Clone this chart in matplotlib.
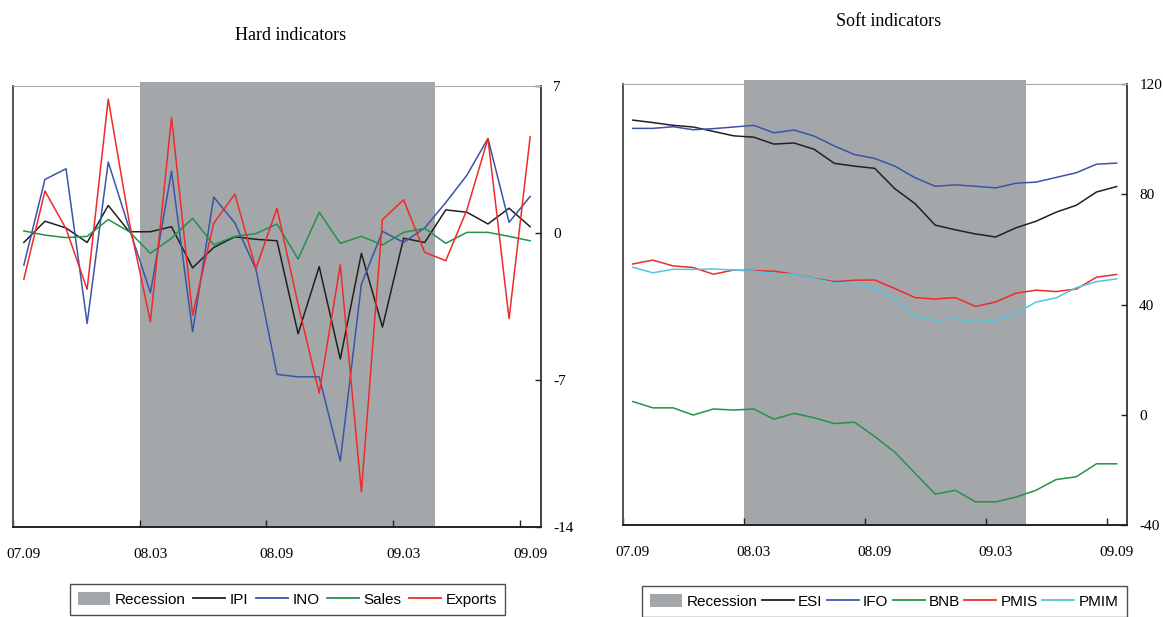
import matplotlib
matplotlib.use("Agg")
import matplotlib.pyplot as plt
from matplotlib.patches import Patch
from matplotlib.lines import Line2D
import numpy as np

# ---------------- data ----------------
months = ["07.09", "07.10", "07.11", "07.12", "08.01", "08.02", "08.03", "08.04",
          "08.05", "08.06", "08.07", "08.08", "08.09", "08.10", "08.11", "08.12",
          "09.01", "09.02", "09.03", "09.04", "09.05", "09.06", "09.07", "09.08", "09.09"]
tick_labels = ["07.09", "08.03", "08.09", "09.03", "09.09"]
recession_first = "08.03"
recession_last = "09.04"

# Hard indicators
ipi = [-0.45, 0.56, 0.24, -0.45, 1.31, 0.06, 0.06, 0.30, -1.66, -0.69, -0.18, -0.30, -0.37,
       -4.80, -1.60, -6.00, -0.97, -4.48, -0.25, -0.45, 1.10, 0.99, 0.43, 1.18, 0.30]
ino = [-1.53, 2.55, 3.06, -4.31, 3.38, 0.20, -2.84, 2.94, -4.70, 1.71, 0.48, -1.72, -6.73,
       -6.85, -6.85, -10.86, -2.44, 0.08, -0.45, 0.24, 1.45, 2.75, 4.50, 0.51, 1.74]
sales = [0.10, -0.10, -0.22, -0.16, 0.64, 0.06, -0.97, -0.25, 0.70, -0.56, -0.16, -0.03, 0.43,
         -1.24, 0.99, -0.49, -0.16, -0.57, 0.03, 0.22, -0.49, 0.03, 0.03, -0.16, -0.37]
exports = [-2.20, 2.00, 0.20, -2.68, 6.38, 0.50, -4.23, 5.50, -3.92, 0.46, 1.85, -1.69, 1.18,
           -3.40, -7.62, -1.52, -12.33, 0.64, 1.58, -0.92, -1.32, 1.10, 4.50, -4.08, 4.58]

# Soft indicators
esi = [106.9, 106.0, 105.0, 104.4, 102.8, 101.2, 100.7, 98.2, 98.6, 96.3, 91.2, 90.2, 89.4,
       82.0, 76.6, 68.8, 67.1, 65.6, 64.5, 67.8, 70.2, 73.5, 76.0, 80.8, 82.8]
ifo = [103.9, 103.9, 104.5, 103.4, 103.8, 104.4, 105.0, 102.3, 103.3, 101.1, 97.5, 94.4, 93.0,
       90.2, 86.0, 82.9, 83.4, 82.9, 82.3, 84.0, 84.4, 86.1, 87.8, 90.9, 91.3]
bnb = [4.8, 2.5, 2.5, -0.1, 2.1, 1.7, 2.1, -1.6, 0.5, -1.1, -3.2, -2.7, -7.9,
       -13.6, -21.2, -28.8, -27.4, -31.6, -31.6, -29.9, -27.4, -23.5, -22.5, -17.8, -17.8]
pmis = [54.7, 56.1, 54.0, 53.4, 51.0, 52.5, 52.3, 52.1, 51.0, 49.5, 48.3, 48.8, 48.9,
        45.8, 42.5, 42.0, 42.5, 39.3, 40.9, 44.1, 45.2, 44.7, 45.6, 49.9, 50.9]
pmim = [53.5, 51.5, 52.8, 52.7, 52.9, 52.5, 52.1, 51.2, 51.0, 49.4, 47.8, 47.8, 45.7,
        41.8, 35.7, 34.3, 34.8, 33.7, 34.3, 36.7, 40.9, 42.4, 46.1, 48.3, 49.3]

# ---------------- style ----------------
SHADE = "#a4a7aa"
C_BLACK = "#231f20"
C_BLUE = "#3a55a7"
C_GREEN = "#23924a"
C_RED = "#ee2b2b"
C_CYAN = "#55c6e0"
SERIF = "Liberation Serif"
SANS = "Liberation Sans"

fig = plt.figure(figsize=(11.63, 6.17), dpi=100)

n = len(months)
x = np.arange(n) + 0.5
r0 = months.index(recession_first)
r1 = months.index(recession_last) + 1
tick_idx = [months.index(t) for t in tick_labels]


def setup(ax, ylim, yticks):
    ax.set_xlim(0, n)
    ax.set_ylim(*ylim)
    ax.axvspan(r0, r1, ymin=0, ymax=1.008, color=SHADE, lw=0, zorder=0, clip_on=False)
    # tick marks at category boundaries
    ax.set_xticks(tick_idx, minor=True)
    ax.set_xticks([i + 0.5 for i in tick_idx])
    ax.set_xticklabels(tick_labels, fontfamily=SERIF, fontsize=11)
    ax.tick_params(axis="x", which="major", length=0, pad=15)
    ax.tick_params(axis="x", which="minor", length=5, width=1.0, direction="in", color="#222222")
    ax.yaxis.tick_right()
    ax.set_yticks(yticks)
    ax.set_yticklabels([str(v) for v in yticks], fontfamily=SERIF, fontsize=11)
    ax.tick_params(axis="y", which="both", length=4, width=1.0, direction="in", pad=9,
                   color="#222222", left=False, right=True)
    ax.spines["left"].set_color("#555555")
    ax.spines["left"].set_linewidth(1.4)
    ax.spines["top"].set_color("#aaaaaa")
    ax.spines["top"].set_linewidth(0.8)
    ax.spines["bottom"].set_color("#222222")
    ax.spines["bottom"].set_linewidth(1.4)
    ax.spines["right"].set_color("#222222")
    ax.spines["right"].set_linewidth(1.2)


# Left: Hard indicators
ax1 = fig.add_axes([13.3 / 1163, 1 - 527 / 617, 527.4 / 1163, 441 / 617])
setup(ax1, (-14, 7), [7, 0, -7, -14])
lw = 1.1
ax1.plot(x, ipi, color=C_BLACK, lw=lw)
ax1.plot(x, ino, color=C_BLUE, lw=lw)
ax1.plot(x, sales, color=C_GREEN, lw=lw)
ax1.plot(x, exports, color=C_RED, lw=lw)

# Right: Soft indicators
ax2 = fig.add_axes([622.7 / 1163, 1 - 525 / 617, 504 / 1163, 441 / 617])
setup(ax2, (-40, 120), [120, 80, 40, 0, -40])
ax2.plot(x, esi, color=C_BLACK, lw=lw)
ax2.plot(x, ifo, color=C_BLUE, lw=lw)
ax2.plot(x, bnb, color=C_GREEN, lw=lw)
ax2.plot(x, pmis, color=C_RED, lw=lw)
ax2.plot(x, pmim, color=C_CYAN, lw=lw)

fig.text(291 / 1163, 1 - 35 / 617, "Hard indicators", fontfamily=SERIF, fontsize=13,
         ha="center", va="center")
fig.text(889 / 1163, 1 - 22 / 617, "Soft indicators", fontfamily=SERIF, fontsize=13,
         ha="center", va="center")


def legend(names, colors, anchor, colsp):
    handles = [Patch(facecolor=SHADE, edgecolor="none")]
    handles += [Line2D([], [], color=c, lw=1.3) for c in colors]
    leg = fig.legend(handles, ["Recession"] + names, loc="upper left",
                     bbox_to_anchor=anchor, ncol=len(handles), frameon=True,
                     fancybox=False, shadow=False, prop={"family": SANS, "size": 11},
                     handlelength=2.1, handletextpad=0.28, columnspacing=colsp,
                     borderpad=0.55, borderaxespad=0, handleheight=0.9)
    fr = leg.get_frame()
    fr.set_edgecolor("#222222")
    fr.set_linewidth(1.0)
    return leg


legend(["IPI", "INO", "Sales", "Exports"], [C_BLACK, C_BLUE, C_GREEN, C_RED],
       (70 / 1163, 1 - 584 / 617), 0.5)
legend(["ESI", "IFO", "BNB", "PMIS", "PMIM"], [C_BLACK, C_BLUE, C_GREEN, C_RED, C_CYAN],
       (642 / 1163, 1 - 586 / 617), 0.27)

fig.savefig("out.png", dpi=100)
